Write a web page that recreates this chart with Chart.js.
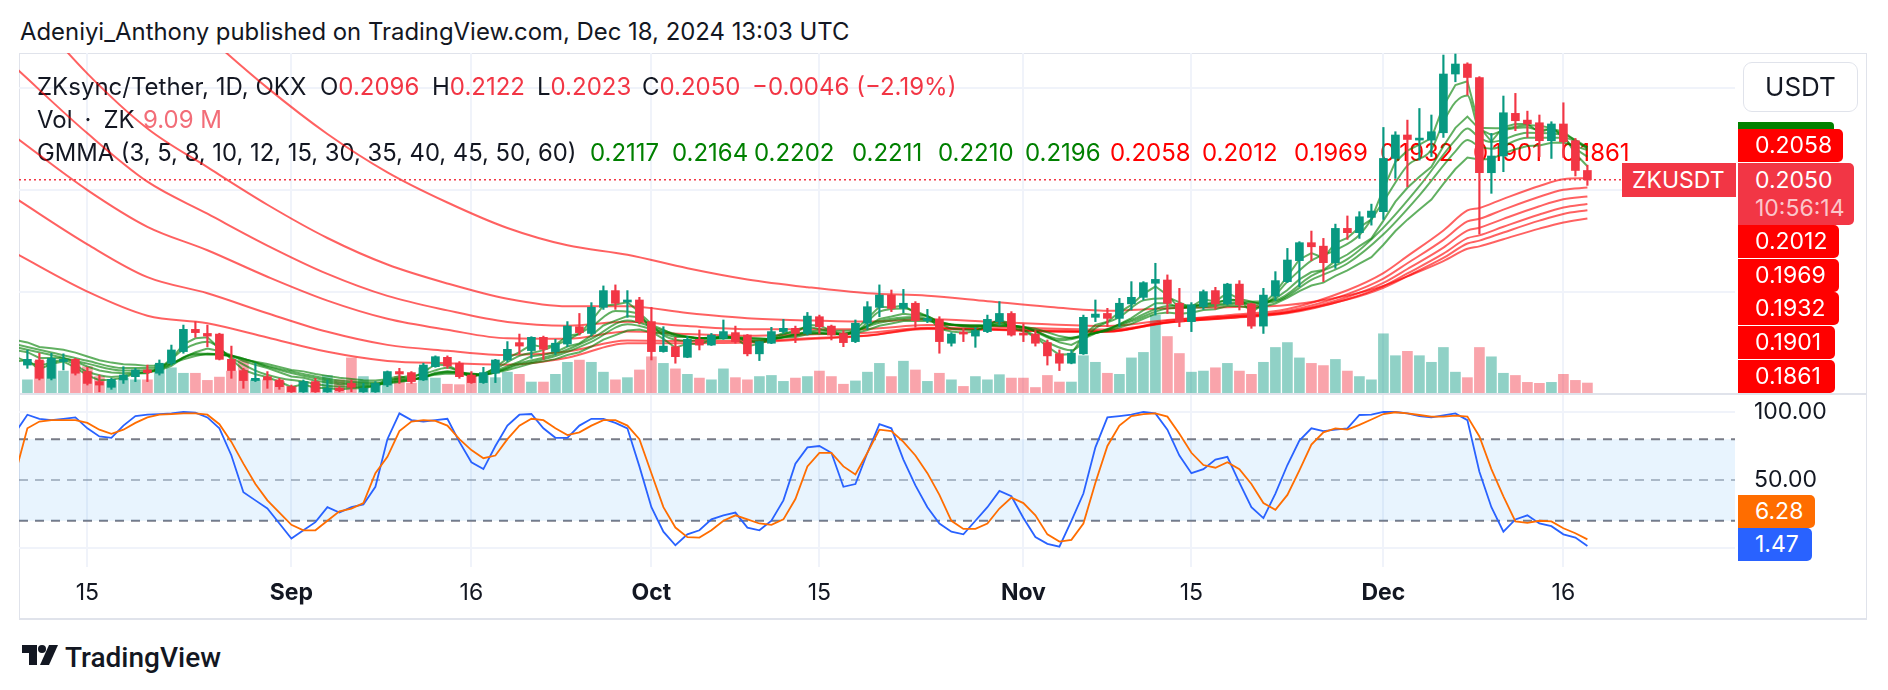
<!DOCTYPE html>
<html>
<head>
<meta charset="utf-8">
<title>ZKsync/Tether 1D</title>
<script src="https://cdn.jsdelivr.net/npm/chart.js@4.4.1/dist/chart.umd.min.js"></script>
<style>
  html, body { margin: 0; padding: 0; background: #fff; }
  body { width: 1888px; height: 690px; position: relative; overflow: hidden;
         font-family: Inter, Roboto, sans-serif; color: #131722; }
  .abs { position: absolute; white-space: nowrap; }
  canvas { position: absolute; left: 19px; }
  #frame { position: absolute; left: 19px; top: 53px; width: 1846px; height: 564px;
           border: 1px solid #e0e3eb; border-bottom-width: 2px; }
  #sep { position: absolute; left: 20px; top: 393px; width: 1846px; height: 2px; background: #e0e3eb; }
  .legend { font-size: 24px; line-height: 28px; }
  .red { color: #f23645; }
  .tag { position: absolute; color: #fff; font-size: 23px; padding-left: 17px; box-sizing: border-box;
         border-radius: 0 5px 5px 0; }
</style>
</head>
<body>
<div id="frame"></div>
<canvas id="priceGrid" width="1848" height="340" style="top:53px"></canvas>

<div class="abs" id="header" style="left:20px; top:17px; font-size:23.9px; line-height:30px;">Adeniyi_Anthony published on TradingView.com, Dec 18, 2024 13:03 UTC</div>

<div class="abs legend" style="left:37px; top:73px;">ZKsync/Tether, 1D, OKX</div>
<div class="abs legend" style="left:320px; top:73px;">O<span class="red" id="lgO"></span></div>
<div class="abs legend" style="left:432px; top:73px;">H<span class="red" id="lgH"></span></div>
<div class="abs legend" style="left:537px; top:73px;">L<span class="red" id="lgL"></span></div>
<div class="abs legend" style="left:642px; top:73px;">C<span class="red" id="lgC"></span></div>
<div class="abs legend red" style="left:752px; top:73px;" id="lgChg"></div>
<div class="abs legend" style="left:37px; top:106px;">Vol&#8194;·&#8194;ZK</div>
<div class="abs legend" style="left:143px; top:106px; color:#f26d78;" id="lgVol"></div>
<div class="abs legend" style="left:37px; top:139px; font-size:23.8px;">GMMA (3, 5, 8, 10, 12, 15, 30, 35, 40, 45, 50, 60)</div>
<div id="gmmaValues"></div>

<canvas id="price" width="1848" height="340" style="top:53px"></canvas>
<canvas id="stoch" width="1848" height="223" style="top:395px"></canvas>
<div id="sep"></div>

<div class="abs" style="left:1743px; top:62px; width:115px; height:50px; border:1px solid #e0e3eb; border-radius:9px;
     box-sizing:border-box; font-size:26px; line-height:48px; text-align:center;">USDT</div>
<div class="abs" style="left:1738px; top:122px; width:96px; height:10px; background:#008000; border-radius:0 4px 0 0;"></div>
<div id="priceTags"></div>
<div class="tag" style="left:1622px; top:163px; width:114px; height:34px; line-height:34px; background:#f23645; padding-left:10px; border-radius:0;">ZKUSDT</div>
<div class="tag" style="left:1738px; top:163px; width:116px; height:62px; background:#f23645; line-height:28px; padding-top:3px;">
  <div id="lastTag"></div><div style="color:rgba(255,255,255,0.72);">10:56:14</div>
</div>
<div class="tag" id="dTag" style="left:1738px; top:495px; width:77px; height:33px; line-height:33px; background:#ff6d00;"></div>
<div class="tag" id="kTag" style="left:1738px; top:528px; width:74px; height:33px; line-height:33px; background:#2962ff;"></div>

<svg class="abs" style="left:22px; top:645px;" width="36" height="20" viewBox="0 0 36 20">
  <path d="M0 0H15V20H7V8H0Z" fill="#131722"/>
  <circle cx="20" cy="4" r="4" fill="#131722"/>
  <path d="M27 0H36L27 20H18Z" fill="#131722"/>
</svg>
<div class="abs" style="left:65px; top:640px; font-family:Roboto, sans-serif; font-size:28px; line-height:36px; font-weight:500;">TradingView</div>

<script>
// day 0 = 15 Aug 2024, one candle per day
const firstCandleDay = -5;

const opens = [
  .1142,.1167,.1077,.1159,.1170,.1110,.1061,.1033,.1069,.1085,
  .1118,.1102,.1151,.1208,.1317,.1297,.1294,.1170,.1115,.1066,
  .1085,.1069,.1036,.1011,.1061,.1011,.1028,.1052,.1011,.1011,
  .1044,.1110,.1105,.1069,.1134,.1180,.1151,.1093,.1056,.1102,
  .1167,.1252,.1213,.1278,.1208,.1245,.1330,.1297,.1425,.1507,
  .1451,.1461,.1355,.1208,.1232,.1180,.1268,.1240,.1273,.1301,
  .1289,.1197,.1249,.1306,.1322,.1297,.1379,.1333,.1297,.1257,
  .1347,.1425,.1485,.1420,.1445,.1360,.1366,.1249,.1301,.1284,
  .1306,.1355,.1395,.1297,.1294,.1252,.1197,.1151,.1197,.1376,
  .1395,.1371,.1442,.1474,.1543,.1559,.1445,.1355,.1428,.1507,
  .1442,.1539,.1442,.1333,.1480,.1551,.1654,.1742,.1725,.1644,
  .1812,.1791,.1866,.1894,.2155,.2270,.2245,.2245,.2281,.2569,
  .2618,.2552,.2085,.2167,.2376,.2343,.2330,.2242,.2324,.2242,
  .2096
];
const highs = [
  .1216,.1200,.1200,.1197,.1175,.1131,.1093,.1077,.1134,.1126,
  .1142,.1167,.1240,.1338,.1355,.1338,.1298,.1235,.1126,.1151,
  .1110,.1077,.1044,.1069,.1077,.1069,.1036,.1069,.1052,.1061,
  .1113,.1126,.1110,.1151,.1187,.1187,.1159,.1110,.1131,.1170,
  .1257,.1294,.1281,.1284,.1268,.1355,.1395,.1448,.1530,.1535,
  .1507,.1474,.1425,.1330,.1278,.1281,.1314,.1297,.1363,.1333,
  .1292,.1259,.1327,.1366,.1333,.1400,.1387,.1338,.1311,.1363,
  .1453,.1535,.1510,.1513,.1453,.1415,.1379,.1301,.1322,.1327,
  .1387,.1453,.1404,.1343,.1311,.1265,.1216,.1216,.1387,.1461,
  .1420,.1469,.1551,.1551,.1641,.1584,.1518,.1448,.1510,.1523,
  .1543,.1556,.1445,.1518,.1600,.1714,.1747,.1799,.1763,.1833,
  .1873,.1894,.1931,.2307,.2286,.2343,.2400,.2368,.2662,.2667,
  .2624,.2556,.2278,.2461,.2474,.2387,.2368,.2335,.2428,.2253,
  .2122
];
const lows = [
  .1126,.1069,.1069,.1118,.1093,.1044,.1011,.1023,.1052,.1061,
  .1061,.1093,.1142,.1200,.1278,.1232,.1167,.1077,.1028,.1061,
  .1028,.1023,.1008,.1008,.1008,.1008,.1011,.1011,.1008,.1008,
  .1036,.1052,.1052,.1066,.1131,.1126,.1077,.1052,.1052,.1056,
  .1159,.1197,.1175,.1170,.1192,.1232,.1289,.1284,.1415,.1415,
  .1376,.1343,.1167,.1205,.1151,.1178,.1216,.1238,.1268,.1249,
  .1187,.1164,.1247,.1297,.1252,.1289,.1297,.1265,.1232,.1252,
  .1317,.1379,.1404,.1399,.1327,.1350,.1200,.1235,.1257,.1229,
  .1301,.1338,.1284,.1257,.1235,.1142,.1115,.1148,.1194,.1355,
  .1330,.1330,.1412,.1461,.1387,.1395,.1330,.1306,.1415,.1415,
  .1437,.1412,.1322,.1297,.1458,.1546,.1526,.1654,.1551,.1616,
  .1758,.1763,.1828,.1856,.2057,.2016,.2147,.2164,.2258,.2531,
  .2466,.1784,.1984,.2090,.2291,.2258,.2164,.2155,.2160,.2069,
  .2023
];
const closes = [
  .1170,.1077,.1175,.1170,.1102,.1052,.1044,.1072,.1093,.1118,
  .1105,.1151,.1216,.1317,.1301,.1284,.1170,.1115,.1066,.1077,
  .1069,.1036,.1011,.1061,.1011,.1028,.1016,.1033,.1028,.1052,
  .1110,.1098,.1061,.1142,.1183,.1137,.1085,.1056,.1105,.1167,
  .1219,.1235,.1278,.1219,.1249,.1333,.1301,.1425,.1507,.1445,
  .1461,.1355,.1208,.1235,.1183,.1268,.1240,.1289,.1306,.1257,
  .1197,.1257,.1306,.1322,.1297,.1382,.1330,.1289,.1252,.1347,
  .1428,.1485,.1420,.1445,.1360,.1366,.1257,.1294,.1294,.1311,
  .1366,.1395,.1289,.1289,.1249,.1187,.1151,.1200,.1376,.1392,
  .1371,.1445,.1474,.1546,.1562,.1445,.1355,.1437,.1502,.1442,
  .1539,.1437,.1333,.1485,.1556,.1657,.1742,.1722,.1644,.1812,
  .1791,.1869,.1897,.2155,.2270,.2248,.2253,.2286,.2569,.2618,
  .2552,.2085,.2167,.2379,.2340,.2324,.2242,.2324,.2237,.2096,
  .2050
];
// volume in millions of ZK
const volumes = [
  12,29,30,20,25,24,15,10.6,13.6,12,
  12,26,23,18,18,11.5,14.5,20,30,12,
  12,10.6,6,10.6,9,16,12,32,15,9,
  12,15,9,23,13.6,8,7.6,18,17,14,
  19,17,10,10,17,28,30,28,19,12,
  14,21,33,27,22,17,13.6,12,22,14,
  12,15,16,10.6,13.6,15,20,15,8,11,
  19,27,15,29,21,10.6,18,12,6,15,
  12,16.7,13.6,13.6,5,16,10,10,34,28,
  18,17,32,37,71,51.5,36,19,20,23,
  27,20,17,28,41.5,46,32,27,25,30.6,
  20,15,12,54,34,38,34,28,41.5,19,
  14,41.5,33,18,16,9.7,8.8,9.7,17,11.5,
  9.09
];

// indicator series start one day earlier (partly hidden at the left edge)
const firstIndicatorDay = -6;
const stochK = [
  85,98,95,94,95,96,88,82,81,90,
  97,98,98.5,99,100,99.5,96,88,68,41,
  35,29,18,7,13,19,30,26,30,32,
  45,80,99,94,93,94,95,78,63,58,
  75,90,98,98.5,88,81,81,90,95,95,
  92,88,60,30,12,2,10,13,21,24,
  26,15,13,20,35,62,74,75,70,45,
  47,70,91,88,65,46,30,18,12,10,
  20,30,42,38,22,8,3,1,20,40,
  74,96,97,98,100,99,87,68,55,58,
  65,67,48,30,22,40,61,79,88,86,
  87,88,97.8,98,100,100,99,97,96,97.5,
  99,94,56,30,12,21,24,18,16,10,
  7.6,1.47
];
const stochD = [
  55,88,93,94,94,94,92,87,84,87,
  92,96,98,98.5,99,99,98,91,78,62,
  47,35,26,17,13,13,20,27,29,33,
  55,67,86,93,94,93.5,90,80,72,66,
  68,80,90,95,94,88,83,85,90,94,
  94,90,80,55,30,15,8,7.6,13,20,
  24,21,18,17,21,36,60,70,70,60,
  54,70,87,86,78,68,55,39,20,14,
  14,18,29,37,33,24,10,4.7,6,18,
  48,75,90,97,98.5,99,96.6,84,70,61,
  59,63,58,47,33,28,39,57,76,85,
  88,87,90.5,94.5,98.5,99.8,99,97.8,96.6,96.6,
  97.3,96.6,82,58,38,19.5,18.5,20,19.5,14.5,
  10.8,6.28
];

// GMMA short group, daily values from firstIndicatorDay
const ema3 = [
  .1160,.1165,.1121,.1148,.1159,.1131,.1091,.1068,.1070,.1081,
  .1100,.1102,.1127,.1171,.1244,.1273,.1278,.1224,.1170,.1118,
  .1097,.1083,.1060,.1035,.1048,.1030,.1029,.1022,.1028,.1028,
  .1040,.1075,.1087,.1074,.1108,.1145,.1141,.1113,.1085,.1095,
  .1131,.1175,.1205,.1241,.1230,.1240,.1286,.1294,.1359,.1433,
  .1439,.1450,.1402,.1305,.1270,.1227,.1247,.1244,.1266,.1286,
  .1272,.1234,.1246,.1276,.1299,.1298,.1340,.1335,.1312,.1282,
  .1314,.1371,.1428,.1424,.1435,.1397,.1382,.1319,.1307,.1300,
  .1306,.1336,.1365,.1327,.1308,.1279,.1233,.1192,.1196,.1286,
  .1339,.1355,.1400,.1437,.1491,.1527,.1486,.1420,.1429,.1465,
  .1454,.1496,.1467,.1400,.1442,.1499,.1578,.1660,.1691,.1668,
  .1740,.1765,.1817,.1857,.2006,.2138,.2193,.2223,.2255,.2412,
  .2515,.2533,.2309,.2238,.2309,.2324,.2324,.2283,.2303,.2270,
  .2178,.2117
];
const ema8 = [
  .1215,.1205,.1177,.1177,.1175,.1159,.1135,.1115,.1105,.1102,
  .1106,.1106,.1116,.1138,.1178,.1205,.1223,.1211,.1190,.1162,
  .1143,.1127,.1107,.1086,.1080,.1065,.1057,.1048,.1045,.1041,
  .1043,.1058,.1067,.1066,.1083,.1105,.1112,.1106,.1095,.1097,
  .1113,.1137,.1159,.1185,.1193,.1205,.1233,.1248,.1287,.1336,
  .1360,.1382,.1376,.1339,.1316,.1286,.1282,.1273,.1277,.1283,
  .1277,.1259,.1259,.1269,.1281,.1285,.1307,.1312,.1307,.1295,
  .1307,.1334,.1368,.1380,.1394,.1386,.1382,.1354,.1341,.1331,
  .1327,.1336,.1349,.1336,.1326,.1309,.1282,.1253,.1241,.1271,
  .1298,.1314,.1343,.1372,.1411,.1445,.1445,.1425,.1428,.1444,
  .1444,.1465,.1459,.1431,.1443,.1468,.1510,.1562,.1598,.1608,
  .1653,.1684,.1725,.1763,.1850,.1943,.2011,.2065,.2114,.2215,
  .2305,.2360,.2299,.2270,.2294,.2304,.2308,.2293,.2300,.2286,
  .2241,.2202
];
const ema15 = [
  .1265,.1253,.1231,.1224,.1217,.1203,.1184,.1166,.1154,.1146,
  .1143,.1138,.1140,.1149,.1170,.1186,.1198,.1195,.1185,.1170,
  .1158,.1147,.1133,.1118,.1111,.1098,.1089,.1080,.1074,.1068,
  .1066,.1072,.1075,.1073,.1082,.1095,.1100,.1098,.1093,.1095,
  .1104,.1118,.1133,.1151,.1160,.1171,.1191,.1205,.1233,.1267,
  .1289,.1311,.1316,.1303,.1294,.1280,.1279,.1274,.1276,.1280,
  .1277,.1267,.1266,.1271,.1277,.1280,.1293,.1298,.1297,.1291,
  .1298,.1314,.1335,.1346,.1358,.1358,.1359,.1346,.1340,.1334,
  .1331,.1335,.1343,.1336,.1330,.1320,.1303,.1284,.1274,.1287,
  .1300,.1309,.1326,.1344,.1369,.1393,.1400,.1394,.1399,.1412,
  .1416,.1431,.1432,.1420,.1428,.1444,.1471,.1505,.1532,.1546,
  .1579,.1606,.1639,.1671,.1732,.1799,.1855,.1905,.1953,.2030,
  .2103,.2159,.2150,.2152,.2180,.2200,.2216,.2219,.2232,.2233,
  .2214,.2196
];
const ema5Days = [-6,-4,-2,0,2,4,6,8,10,12,14,16,18,20,22,24,26,28,30,32,34,36,38,40,42,44,46,48,50,52,54,56,58,60,
  62,64,66,68,70,72,74,76,78,80,82,84,86,88,90,92,94,96,98,100,102,104,106,108,110,112,113,114,115,116,118,120,122,124,125];
const ema5 = [.1182,.1143,.1165,.1109,.1084,.1102,.1123,.1218,.1256,.1178,.1115,.1079,.1061,.1040,.1035,.1041,.1079,.1098,
  .1129,.1089,.1124,.1187,.1215,.1265,.1330,.1407,.1392,.1288,.1261,.1270,.1274,.1251,.1292,.1327,.1310,.1311,.1404,.1419,
  .1382,.1321,.1314,.1359,.1315,.1253,.1214,.1323,.1377,.1459,.1470,.1429,.1450,.1464,.1442,.1551,.1654,.1705,.1780,.1944,
  .2120,.2199,.2333,.2431,.2464,.2305,.2303,.2318,.2302,.2203,.2164];
const ema10Days = [-6,-3,0,3,6,9,12,15,18,21,24,27,30,33,36,39,42,45,48,51,54,57,60,63,66,69,72,75,78,81,84,87,90,93,
  96,99,102,105,108,111,114,115,116,117,120,123,125];
const ema10 = [.1230,.1191,.1149,.1115,.1123,.1199,.1189,.1133,.1089,.1057,.1050,.1068,.1109,.1096,.1151,.1195,.1271,.1361,
  .1310,.1273,.1277,.1270,.1303,.1294,.1358,.1378,.1341,.1336,.1327,.1262,.1299,.1364,.1432,.1435,.1451,.1461,.1579,.1661,
  .1816,.2019,.2246,.2302,.2256,.2236,.2281,.2271,.2211];
const ema12 = [.1244,.1204,.1163,.1127,.1130,.1194,.1187,.1138,.1098,.1066,.1056,.1070,.1105,.1096,.1144,.1186,.1256,.1342,
  .1303,.1274,.1277,.1270,.1299,.1293,.1349,.1370,.1340,.1335,.1328,.1271,.1299,.1356,.1419,.1426,.1444,.1454,.1560,.1640,
  .1783,.1974,.2190,.2245,.2214,.2203,.2256,.2256,.2210];

// GMMA long group, read at these days
const longDays = [-6,0,5,10,15,20,25,30,35,40,45,50,55,60,65,70,75,80,85,90,95,100,105,108,110,113,115,116,118,121,123,125];
const ema30 = [.1690,.1502,.1384,.1347,.1277,.1207,.1162,.1151,.1144,.1178,.1249,.1249,.1252,.1269,.1286,.1323,
  .1318,.1308,.1305,.1359,.1386,.1417,.1509,.1593,.1676,.1802,.1900,.1912,.1957,.2020,.2053,.2058];
const ema35 = [.1960,.1734,.1573,.1494,.1396,.1305,.1241,.1212,.1191,.1209,.1263,.1260,.1260,.1273,.1287,.1319,
  .1315,.1307,.1305,.1352,.1378,.1407,.1490,.1566,.1641,.1756,.1846,.1859,.1904,.1967,.2001,.2012];
const ema40 = [.2260,.2000,.1820,.1705,.1575,.1458,.1369,.1315,.1273,.1271,.1306,.1294,.1286,.1292,.1300,.1325,
  .1320,.1312,.1309,.1350,.1373,.1400,.1476,.1545,.1613,.1718,.1801,.1815,.1859,.1921,.1955,.1969];
const ema45 = [.2600,.2278,.2041,.1884,.1728,.1589,.1481,.1410,.1353,.1335,.1354,.1333,.1318,.1317,.1319,.1338,
  .1331,.1321,.1316,.1351,.1372,.1396,.1465,.1529,.1591,.1688,.1764,.1778,.1820,.1880,.1914,.1932];
const ema50 = [.2964,.2571,.2302,.2112,.1928,.1765,.1635,.1542,.1467,.1430,.1430,.1397,.1372,.1361,.1355,.1366,
  .1355,.1342,.1334,.1363,.1380,.1401,.1463,.1521,.1578,.1667,.1738,.1752,.1792,.1850,.1883,.1901];
const ema60 = [.3880,.3379,.3027,.2755,.2501,.2275,.2087,.1939,.1814,.1729,.1683,.1617,.1562,.1524,.1494,.1482,
  .1455,.1428,.1408,.1421,.1426,.1436,.1483,.1530,.1577,.1652,.1712,.1724,.1759,.1811,.1841,.1861];

// time axis
const tickDays = [0, 17, 32, 47, 61, 78, 92, 108, 123];
const tickLabels = ['15', 'Sep', '16', 'Oct', '15', 'Nov', '15', 'Dec', '16'];
const priceGrid = [0.15, 0.20, 0.25];

const UP = '#089981';
const DOWN = '#f23645';
const GRID = '#f0f3fa';
const X_MIN = -5.7;
const X_MAX = 137.3;
const PRICE_MIN = 0.1005;
const PRICE_MAX = 0.2672;

Chart.defaults.font.family = 'Inter, Roboto, sans-serif';
Chart.defaults.color = '#131722';

/**
 * Pair day numbers with values.
 */
function points(days, values) {
    return values.map((v, i) => ({ x: days[i], y: v }));
}

/**
 * Daily series starting at a given day.
 */
function dailyPoints(start, values) {
    return values.map((v, i) => ({ x: start + i, y: v }));
}

/**
 * One GMMA line.
 */
function gmmaLine(data, color, smooth, order) {
    return {
        type: 'line',
        data: data,
        borderColor: color,
        borderWidth: 2,
        pointRadius: 0,
        cubicInterpolationMode: smooth ? 'monotone' : 'default',
        tension: 0,
        yAxisID: 'y',
        order: order
    };
}

/**
 * Horizontal reference line across the whole pane.
 */
function hLine(value, color, dash, yAxisID, order, extra) {
    return Object.assign({
        type: 'line',
        data: [{ x: X_MIN, y: value }, { x: X_MAX, y: value }],
        borderColor: color,
        borderWidth: 2,
        borderDash: dash,
        pointRadius: 0,
        yAxisID: yAxisID,
        order: order
    }, extra || {});
}

/**
 * Drop the label overhang padding so both panes keep their exact size.
 */
function noPadding(s) {
    s.paddingTop = 0;
    s.paddingBottom = 0;
    s.paddingLeft = 0;
    s.paddingRight = 0;
}

function xAxis(showLabels, showGrid) {
    return {
        type: 'linear',
        min: X_MIN,
        max: X_MAX,
        offset: false,
        grid: { display: showGrid, color: GRID, lineWidth: 2, drawTicks: false, offset: false },
        border: { display: false },
        ticks: {
            display: showLabels,
            autoSkip: false,
            maxRotation: 0,
            padding: 12,
            color: '#131722',
            font: ctx => ({ size: 23, weight: ctx.index % 2 === 1 ? 'bold' : 'normal' }),
            callback: (v, i) => tickLabels[i] || ''
        },
        afterBuildTicks: s => { s.ticks = tickDays.map(v => ({ value: v })); },
        afterFit: s => { s.height = showLabels ? 51 : 0; noPadding(s); }
    };
}

function priceAxis(showGrid) {
    return {
        position: 'right',
        min: PRICE_MIN,
        max: PRICE_MAX,
        grid: { display: showGrid, color: GRID, lineWidth: 2, drawTicks: false },
        border: { display: false },
        ticks: { display: false },
        afterBuildTicks: s => { s.ticks = priceGrid.map(v => ({ value: v })); },
        afterFit: s => { s.width = 132; noPadding(s); }
    };
}

const baseOptions = {
    responsive: false,
    animation: false,
    events: [],
    layout: { padding: 0 },
    plugins: { legend: { display: false }, tooltip: { enabled: false } }
};

/**
 * Grid of the price pane, drawn under the legend text.
 */
function initPriceGrid() {
    new Chart(document.getElementById('priceGrid'), {
        type: 'line',
        data: { datasets: [] },
        options: Object.assign({}, baseOptions, {
            scales: { x: xAxis(false, true), y: priceAxis(true) }
        })
    });
}

function initPriceChart() {
    const days = closes.map((c, i) => firstCandleDay + i);
    const colors = closes.map((c, i) => c >= opens[i] ? UP : DOWN);
    const volColors = closes.map((c, i) => c >= opens[i] ? 'rgba(8,153,129,0.45)' : 'rgba(242,54,69,0.45)');
    const last = closes[closes.length - 1];

    const shortColor = 'rgba(0,128,0,0.62)';
    const longColor = 'rgba(255,0,0,0.62)';

    new Chart(document.getElementById('price'), {
        type: 'bar',
        data: {
            datasets: [
                {
                    data: days.map((d, i) => ({ x: d, y: [opens[i], closes[i]] })),
                    backgroundColor: colors, barThickness: 8, minBarLength: 2,
                    grouped: false, yAxisID: 'y', order: 1
                },
                {
                    data: days.map((d, i) => ({ x: d, y: [lows[i], highs[i]] })),
                    backgroundColor: colors, barThickness: 1.5,
                    grouped: false, yAxisID: 'y', order: 2
                },
                hLine(last, '#f23645', [2, 3], 'y', 5, { borderWidth: 1.5 }),
                gmmaLine(dailyPoints(firstIndicatorDay, ema3), shortColor, false, 10),
                gmmaLine(points(ema5Days, ema5), shortColor, true, 11),
                gmmaLine(dailyPoints(firstIndicatorDay, ema8), shortColor, false, 12),
                gmmaLine(points(ema10Days, ema10), shortColor, true, 13),
                gmmaLine(points(ema10Days, ema12), shortColor, true, 14),
                gmmaLine(dailyPoints(firstIndicatorDay, ema15), shortColor, false, 15),
                gmmaLine(points(longDays, ema30), longColor, true, 20),
                gmmaLine(points(longDays, ema35), longColor, true, 21),
                gmmaLine(points(longDays, ema40), longColor, true, 22),
                gmmaLine(points(longDays, ema45), longColor, true, 23),
                gmmaLine(points(longDays, ema50), longColor, true, 24),
                gmmaLine(points(longDays, ema60), longColor, true, 25),
                {
                    data: days.map((d, i) => ({ x: d, y: volumes[i] })),
                    backgroundColor: volColors, barThickness: 10,
                    grouped: false, yAxisID: 'yv', order: 50
                }
            ]
        },
        options: Object.assign({}, baseOptions, {
            scales: {
                x: xAxis(false, false),
                y: priceAxis(false),
                yv: { display: false, min: 0, max: 310 }
            }
        })
    });
}

function initStochChart() {
    new Chart(document.getElementById('stoch'), {
        type: 'line',
        data: {
            datasets: [
                {
                    data: dailyPoints(firstIndicatorDay, stochD),
                    borderColor: '#ff6d00', borderWidth: 1.8, pointRadius: 0, tension: 0, yAxisID: 'y', order: 1
                },
                {
                    data: dailyPoints(firstIndicatorDay, stochK),
                    borderColor: '#2962ff', borderWidth: 1.8, pointRadius: 0, tension: 0, yAxisID: 'y', order: 2
                },
                hLine(80, '#787b86', [9, 7], 'y', 5, { fill: { value: 20 }, backgroundColor: 'rgba(33,150,243,0.1)' }),
                hLine(50, 'rgba(120,123,134,0.5)', [9, 7], 'y', 6),
                hLine(20, '#787b86', [9, 7], 'y', 7)
            ]
        },
        options: Object.assign({}, baseOptions, {
            scales: {
                x: xAxis(true, true),
                y: {
                    position: 'right',
                    min: -14.0,
                    max: 112.5,
                    grid: {
                        drawTicks: false,
                        lineWidth: 2,
                        color: ctx => ctx.tick && ctx.tick.value === 50 ? 'rgba(0,0,0,0)' : GRID
                    },
                    border: { display: false },
                    ticks: {
                        padding: 19,
                        color: '#131722',
                        font: { size: 23 },
                        callback: v => v === 0 ? '' : v.toFixed(2)
                    },
                    afterBuildTicks: s => { s.ticks = [0, 50, 100].map(v => ({ value: v })); },
                    afterFit: s => { s.width = 132; noPadding(s); }
                }
            }
        })
    });
}

/**
 * Legend texts and the price / indicator tags on the right.
 */
function fillLabels() {
    const n = closes.length - 1;
    const prev = closes[n - 1];
    const chg = closes[n] - prev;
    const fmt = v => v.toFixed(4);
    const minus = s => s.replace('-', '\u2212');

    document.getElementById('lgO').textContent = fmt(opens[n]);
    document.getElementById('lgH').textContent = fmt(highs[n]);
    document.getElementById('lgL').textContent = fmt(lows[n]);
    document.getElementById('lgC').textContent = fmt(closes[n]);
    document.getElementById('lgChg').textContent =
        minus(fmt(chg)) + ' (' + minus((chg / prev * 100).toFixed(2)) + '%)';
    document.getElementById('lgVol').textContent = volumes[n].toFixed(2) + ' M';

    const shortLast = [ema3, ema5, ema8, ema10, ema12, ema15].map(a => a[a.length - 1]);
    const longLast = [ema30, ema35, ema40, ema45, ema50, ema60].map(a => a[a.length - 1]);
    const valueLeft = [590, 672, 754, 852, 938, 1025, 1110, 1202, 1294, 1380, 1473, 1561];
    const gmma = document.getElementById('gmmaValues');
    shortLast.concat(longLast).forEach((v, i) => {
        const s = document.createElement('div');
        s.className = 'abs legend';
        s.style.cssText = 'top:139px; left:' + valueLeft[i] + 'px; color:' + (i < 6 ? '#008000' : '#ff0000') + ';';
        s.textContent = fmt(v);
        gmma.appendChild(s);
    });

    // stacked tags, pushed apart like on the price scale
    const tops = [129, 225, 259, 292, 326, 360];
    const widths = [105, 101, 101, 101, 97, 97];
    const holder = document.getElementById('priceTags');
    longLast.forEach((v, i) => {
        const t = document.createElement('div');
        t.className = 'tag';
        t.style.cssText = 'left:1738px; top:' + tops[i] + 'px; width:' + widths[i] + 'px; height:33px; line-height:33px; background:#ff0000;';
        t.textContent = fmt(v);
        holder.appendChild(t);
    });
    document.getElementById('lastTag').textContent = fmt(closes[n]);
    document.getElementById('dTag').textContent = stochD[stochD.length - 1].toFixed(2);
    document.getElementById('kTag').textContent = stochK[stochK.length - 1].toFixed(2);
}

fillLabels();
initPriceGrid();
initPriceChart();
initStochChart();
</script>
</body>
</html>
